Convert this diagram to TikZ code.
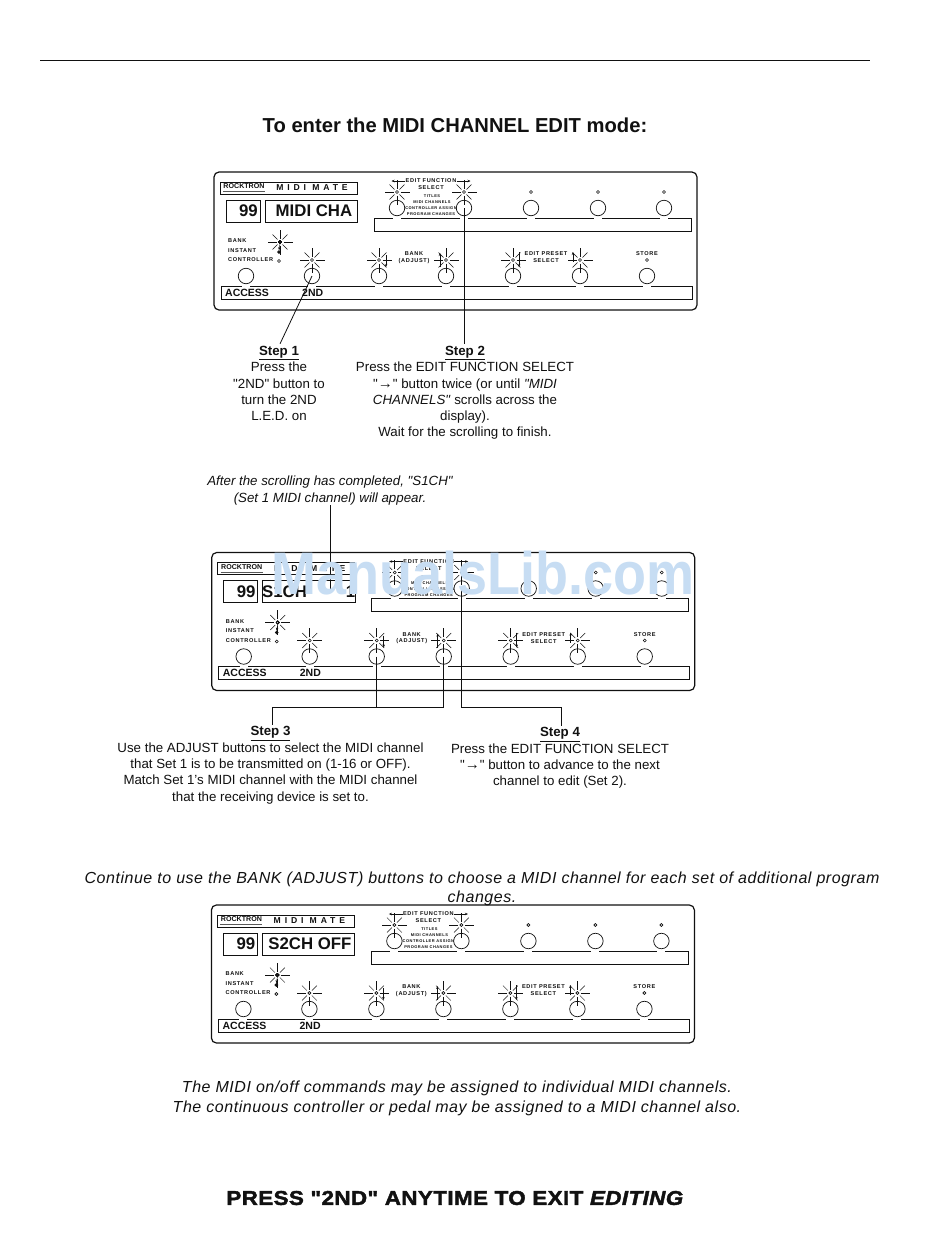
\documentclass[tikz,border=0pt]{standalone}
\usepackage{fontspec}
\setmainfont{Liberation Sans}
\newfontfamily\bodyfont{Liberation Sans}
\newfontfamily\panelfont[LetterSpace=12]{Liberation Sans}
\newfontfamily\matefont[LetterSpace=45]{Liberation Sans}
\newfontfamily\contfont[LetterSpace=3.4]{Liberation Sans}
\newfontfamily\pressfont[FakeBold=2,FakeStretch=1.12,LetterSpace=2]{Liberation Sans}
\newcommand{\bigarrow}{{\bfseries\fontsize{15}{16}\selectfont →}}
\usetikzlibrary{arrows.meta,positioning,calc}
\definecolor{ink}{HTML}{111111}
\definecolor{wmark}{HTML}{C7DDF3}
\tikzset{
  panelbody/.style={draw=ink,line width=1.2pt,rounded corners=5pt,minimum width=483pt,minimum height=138pt,inner sep=0pt},
  strip/.style={draw=ink,line width=.8pt,inner sep=0pt},
  btn/.style={draw=ink,line width=.7pt,circle,minimum size=15.5pt,inner sep=0pt},
  led/.style={draw=ink,line width=.6pt,circle,minimum size=3pt,inner sep=0pt},
  tiny/.style={inner sep=0pt,text=ink,font=\panelfont\bfseries\fontsize{5.6}{6.5}\selectfont},
  tinier/.style={inner sep=0pt,text=ink,font=\panelfont\bfseries\fontsize{4}{5}\selectfont},
  strong/.style={inner sep=0pt,text=ink,font=\bfseries\fontsize{10.5}{12}\selectfont},
  big/.style={inner sep=0pt,text=ink,font=\bfseries\fontsize{16.8}{18}\selectfont},
  steptxt/.style={inner sep=0pt,align=center,text=ink,font=\bodyfont\fontsize{13.3}{16.3}\selectfont},
  leader/.style={draw=ink,line width=.8pt},
  smallarrow/.style={draw=ink,line width=.5pt,-{Stealth[length=3pt,width=2.5pt]}}
}
% rays round one lit LED
\newcommand{\rays}[1]{
  \foreach \a in {0,90,180,270} \draw[ink,line width=.5pt] (#1)+(\a:3.5pt) -- +(\a:12.5pt);
  \foreach \a in {45,135,225,315} \draw[ink,line width=.5pt] (#1)+(\a:3.5pt) -- +(\a:10.5pt);
}
% prefix, shift x, shift y, display text
\newcommand{\midipanel}[4]{
  \begin{scope}[shift={(#2,#3)}]
    \node[panelbody] (#1body) at (455.5,241) {};
    \node[strip,minimum width=137pt,minimum height=12pt] (#1logo) at (288.5,188) {};
    \node[inner sep=0pt,text=ink,font=\bfseries\fontsize{7.1}{8}\selectfont] (#1rock) at (244,186.5) {ROCKTRON};
    \draw[ink!70,line width=1pt] (223,191.5) -- (265,191.5);
    \node[inner sep=0pt,text=ink,font=\matefont\bfseries\fontsize{8.6}{9}\selectfont] (#1mate) at (312,188) {MIDI MATE};
    \node[strip,minimum width=34pt,minimum height=22pt] (#1num) at (243,211) {};
    \node[big,anchor=east] (#1nine) at (258,211) {99};
    \node[strip,minimum width=92pt,minimum height=22pt,big] (#1disp) at (311,211) {#4};
    \node[strip,minimum width=317pt,minimum height=13pt] (#1upper) at (532.5,224.5) {};
    \node[strip,minimum width=471pt,minimum height=13pt] (#1lower) at (456.5,292.5) {};
    % upper row of buttons
    \foreach \x [count=\i] in {397,464,531,598,664} {
      \draw[white,line width=1.2pt] (\x-4,218) -- (\x+4,218);
      \node[btn] (#1top\i) at (\x,208) {};
      \node[led] (#1tled\i) at (\x,192) {};
    }
    % lower row of buttons
    \foreach \x [count=\i] in {246,312,379,446,513,580,647} {
      \draw[white,line width=1.2pt] (\x-4,286) -- (\x+4,286);
      \node[btn] (#1bot\i) at (\x,276) {};
    }
    \foreach \x [count=\i] in {312,379,446,513,580,647} \node[led] (#1bled\i) at (\x,260) {};
    \foreach \n in {#1tled1,#1tled2,#1bled1,#1bled2,#1bled3,#1bled4,#1bled5} \rays{\n}
    % bank LEDs
    \node[led] (#1bank) at (280,242) {};
    \rays{#1bank}
    \node[led,fill=ink] (#1inst) at (279,252) {};
    \node[led] (#1ctrl) at (279,261) {};
    \node[tiny,anchor=west] (#1lbank) at (228,241) {BANK};
    \node[tiny,anchor=west] (#1linst) at (228,250.5) {INSTANT};
    \node[tiny,anchor=west] (#1lctrl) at (228,260) {CONTROLLER};
    % labels
    \node[tiny] (#1edit) at (431,181) {EDIT FUNCTION};
    \node[tiny] (#1sel) at (431,188) {SELECT};
    \node[tinier] (#1titles) at (432,196.5) {TITLES};
    \node[tinier] (#1chans) at (432,202.5) {MIDI CHANNELS};
    \node[tinier] (#1assign) at (431,208.5) {CONTROLLER ASSIGN};
    \node[tinier] (#1prog) at (431,214.5) {PROGRAM CHANGES};
    \node[tiny] (#1lb) at (414,254) {BANK};
    \node[tiny] (#1la) at (414,261) {(ADJUST)};
    \node[tiny] (#1lp) at (546,254) {EDIT PRESET};
    \node[tiny] (#1ls) at (546,261) {SELECT};
    \node[tiny] (#1lstore) at (647,254) {STORE};
    \node[strong,anchor=west] (#1access) at (225,292.5) {ACCESS};
    \node[strong,anchor=west] (#1snd) at (302,292.5) {2ND};
    % small arrows
    \draw[smallarrow] (#1edit.west) -- ++(-14,0);
    \draw[smallarrow] (#1edit.east) -- ++(14,0);
    \draw[smallarrow] (386,255) -- (386,267);
    \draw[smallarrow] (440,267) -- (440,253);
    \draw[smallarrow] (519,252) -- (519,267);
    \draw[smallarrow] (573,262) -- (573,252);
    \draw[smallarrow] (#1bank.south) -- (#1inst.north);
  \end{scope}
}
\begin{document}
\begin{tikzpicture}[x=1pt,y=-1pt]
  \useasboundingbox[fill=white] (0,0) rectangle (950,1254);
  \draw[ink,line width=.8pt] (40,60.5) -- (870,60.5);
  \node[inner sep=0pt,text=ink,font=\bfseries\fontsize{20.2}{22}\selectfont] (title) at (455,125) {To enter the MIDI CHANNEL EDIT mode:};

  \midipanel{p1}{0}{0}{\hspace*{6pt}MIDI CHA}
  \midipanel{p2}{-2.3}{380.5}{S1CH\hspace{39pt}1}
  \midipanel{p3}{-2.6}{733}{\hspace*{3pt}S2CH OFF}

  \node[steptxt,anchor=north] (step1) at (279,346) {\underline{\textbf{Step 1}}\\Press the\\"2ND" button to\\turn the 2ND\\L.E.D. on};
  \node[steptxt,anchor=north] (step2) at (465,346) {\underline{\textbf{Step 2}}\\Press the EDIT FUNCTION SELECT\\"\bigarrow" button twice (or until \textit{"MIDI}\\\textit{CHANNELS"} scrolls across the\\display).\\Wait for the scrolling to finish.};
  \draw[leader,shorten >=2.5pt] (p1bot2.center) -- (step1.north);
  \draw[leader,shorten >=2.5pt] (p1top2.center) -- (step2.north -| p1top2.center);

  \node[steptxt,anchor=north,font=\bodyfont\itshape\fontsize{13.3}{16.3}\selectfont] (capt) at (330,476) {After the scrolling has completed, "S1CH"\\(Set 1 MIDI channel) will appear.};
  \draw[leader,shorten >=2.5pt] (capt.south) -- (capt.south |- p2disp.center);

  \node[steptxt,anchor=north] (step3) at (270.5,726.5) {\underline{\textbf{Step 3}}\\Use the ADJUST buttons to select the MIDI channel\\that Set 1 is to be transmitted on (1-16 or OFF).\\Match Set 1’s MIDI channel with the MIDI channel\\that the receiving device is set to.};
  \node[steptxt,anchor=north] (step4) at (560,727.5) {\underline{\textbf{Step 4}}\\Press the EDIT FUNCTION SELECT\\"\bigarrow" button to advance to the next\\channel to edit (Set 2).};
  \coordinate (elbow3) at (272.5,707.5);
  \coordinate (elbow4) at (561,707.5);
  \draw[leader] (p2bot3.center) -- (p2bot3.center |- elbow3);
  \draw[leader,shorten >=2pt] (p2bot4.center) -- (p2bot4.center |- elbow3) -- (elbow3) -- (step3.north -| elbow3);
  \draw[leader,shorten >=2pt] (p2top2.center) -- (p2top2.center |- elbow4) -- (elbow4) -- (step4.north -| elbow4);

  \node[steptxt,anchor=north,font=\contfont\itshape\fontsize{16}{19.2}\selectfont] (cont) at (482,871.5) {Continue to use the BANK (ADJUST) buttons to choose a MIDI channel for each set of additional program\\changes.};
  \node[steptxt,anchor=north,font=\contfont\itshape\fontsize{16}{20}\selectfont] (note) at (457,1080.5) {The MIDI on/off commands may be assigned to individual MIDI channels.\\The continuous controller or pedal may be assigned to a MIDI channel also.};
  \node[inner sep=0pt,text=ink,font=\pressfont\bfseries\fontsize{20}{22}\selectfont] (press) at (455,1198) {PRESS "2ND" ANYTIME TO EXIT \textit{EDITING}};

  \node[inner sep=0pt,text=wmark,anchor=base,xscale=.9,transform shape,font=\bfseries\fontsize{60}{62}\selectfont] (wm) at (483,594) {ManualsLib.com};
\end{tikzpicture}
\end{document}
